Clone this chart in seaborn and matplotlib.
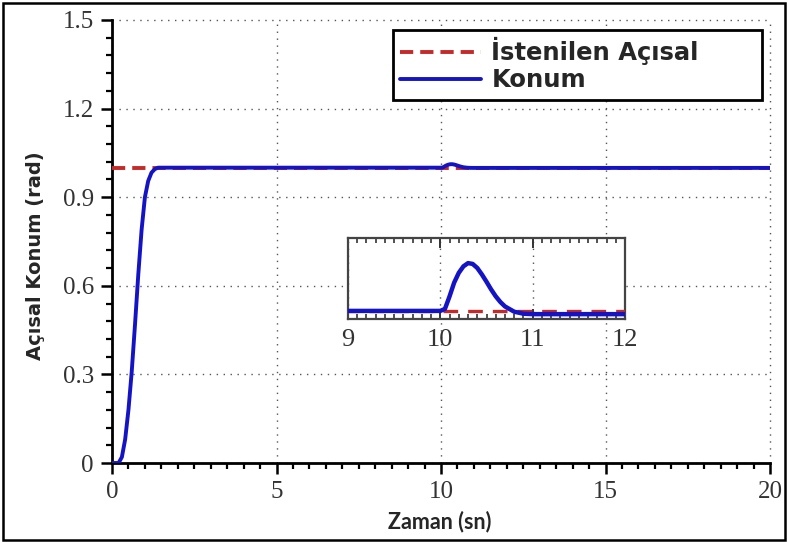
import numpy as np
import pandas as pd
import matplotlib
matplotlib.use("Agg")
import matplotlib.pyplot as plt
from matplotlib.ticker import MultipleLocator
from matplotlib.patches import Rectangle
import seaborn as sns

# ---- data ----
time_s = [0.0, 0.2, 0.3, 0.4, 0.5, 0.6, 0.7, 0.8, 0.9, 1.0, 1.1, 1.2, 1.3, 1.4, 1.5,
          2.0, 5.0, 9.0, 10.0, 10.05, 10.1, 10.15, 10.2, 10.25, 10.3, 10.35, 10.4,
          10.45, 10.5, 10.55, 10.6, 10.65, 10.7, 10.8, 10.9, 11.0, 12.0, 15.0, 20.0]
konum = [0.0, 0.0, 0.02, 0.08, 0.18, 0.31, 0.47, 0.64, 0.79, 0.90, 0.955, 0.983, 0.995, 1.0, 1.0,
         1.0, 1.0, 1.0, 1.0, 1.0005, 1.0036, 1.0070, 1.0094, 1.0110, 1.0118, 1.0116, 1.0106,
         1.0090, 1.0072, 1.0053, 1.0036, 1.0022, 1.0011, 0.9998, 0.9993, 0.9992, 0.9992, 0.9992, 0.9992]
ref_time = [0.0, 20.0]
ref_value = [1.0, 1.0]

x_ticks = [0, 5, 10, 15, 20]
y_ticks = [0, 0.3, 0.6, 0.9, 1.2, 1.5]
y_tick_labels = ["0", "0.3", "0.6", "0.9", "1.2", "1.5"]
inset_ticks = [9, 10, 11, 12]

label_ref = "İstenilen Açısal"
label_pos = "Konum"
xlabel = "Zaman (sn)"
ylabel = "Açısal Konum (rad)"

df_pos = pd.DataFrame({"t": time_s, "v": konum})
df_ref = pd.DataFrame({"t": ref_time, "v": ref_value})

RED = "#c42a2a"
BLUE = "#1414c4"

sns.set_style("white")
plt.rcParams["font.family"] = ["DejaVu Sans"]

W, H = 788, 542
fig = plt.figure(figsize=(W / 100, H / 100), dpi=100)

# main axes
AX_L, AX_R, AX_T, AX_B = 112, 770, 20, 463
ax = fig.add_axes([AX_L / W, 1 - AX_B / H, (AX_R - AX_L) / W, (AX_B - AX_T) / H])
sns.lineplot(data=df_ref, x="t", y="v", ax=ax, color=RED, lw=2.8, label=label_ref, zorder=3)
sns.lineplot(data=df_pos, x="t", y="v", ax=ax, color=BLUE, lw=2.8, label=label_pos, zorder=4)
ax.lines[0].set_dashes((3.4, 1.8))

ax.set_xlim(0, 20)
ax.set_ylim(0, 1.5)
ax.set_xticks(x_ticks)
ax.set_yticks(y_ticks)
ax.set_yticklabels(y_tick_labels)
ax.xaxis.set_minor_locator(MultipleLocator(0.5))
ax.yaxis.set_minor_locator(MultipleLocator(0.06))
ax.set_xlabel("")
ax.set_ylabel("")
for s in ["top", "right"]:
    ax.spines[s].set_visible(False)
for s in ["left", "bottom"]:
    ax.spines[s].set_linewidth(2.0)
    ax.spines[s].set_color("black")
ax.tick_params(which="major", direction="out", length=8, width=1.8, color="black",
               labelsize=18, pad=5, left=True, bottom=True)
ax.tick_params(which="minor", direction="out", length=4, width=1.6, color="black",
               left=True, bottom=True)
for lab in ax.get_xticklabels() + ax.get_yticklabels():
    lab.set_family("Liberation Serif")
    lab.set_color("#333333")
ax.grid(True, which="major", color="#555555", linestyle=(0, (1, 4)), linewidth=1.0)
for gl in ax.get_xgridlines() + ax.get_ygridlines():
    gl.set_clip_on(False)

# legend box spanning x 393..762 px, y 30..100 px
lx0 = (393 - AX_L) / (AX_R - AX_L)
lw_ = (762 - 393) / (AX_R - AX_L)
ly0 = (AX_B - 100) / (AX_B - AX_T)
lh = 70 / (AX_B - AX_T)
leg = ax.legend(loc="upper left", bbox_to_anchor=(lx0, ly0, lw_, lh), mode="expand",
                frameon=True, fancybox=False,
                edgecolor="black", framealpha=1, handlelength=3.3, handletextpad=0.45,
                labelspacing=0.12, borderpad=0.3, borderaxespad=0,
                prop={"family": "DejaVu Sans", "weight": "bold", "size": 17.5})
leg.get_frame().set_linewidth(2.0)

fig.text(36 / W, 1 - 256 / H, ylabel, rotation=90, ha="center", va="center",
         fontsize=14, fontweight="bold", family="DejaVu Sans")
fig.text(440 / W, 1 - 522 / H, xlabel, ha="center", va="center",
         fontsize=15.5, fontweight="bold", family="Lato")

# inset axes
ins = fig.add_axes([348 / W, 1 - 319 / H, (625 - 348) / W, (319 - 238) / H])
ins.set_facecolor("white")
sns.lineplot(data=df_ref, x="t", y="v", ax=ins, color=RED, lw=2.4, zorder=3, legend=False)
sns.lineplot(data=df_pos, x="t", y="v", ax=ins, color=BLUE, lw=3.2, zorder=4, legend=False)
ins.lines[0].set_dashes((4.4, 3.0))
ins.set_xlim(9, 12)
ins.set_ylim(0.998, 1.018)
ins.set_xticks(inset_ticks)
ins.xaxis.set_minor_locator(MultipleLocator(0.1))
ins.set_yticks([])
ins.set_xlabel("")
ins.set_ylabel("")
for s in ins.spines.values():
    s.set_visible(True)
    s.set_linewidth(1.6)
    s.set_color("#444444")
ins.tick_params(axis="x", which="major", direction="in", length=7, width=1.4, color="#333333",
                top=True, bottom=True, labelsize=19, pad=7)
ins.tick_params(axis="x", which="minor", direction="in", length=3.5, width=1.2, color="#333333",
                top=True, bottom=True)
for lab in ins.get_xticklabels():
    lab.set_family("Liberation Serif")
    lab.set_color("#333333")
ins.grid(True, axis="x", which="major", color="#555555", linestyle=(0, (1, 4)), linewidth=1.0)
ins.grid(False, axis="y")

fig.patches.append(Rectangle((3 / W, 2 / H), 782 / W, 537 / H, transform=fig.transFigure,
                             fill=False, edgecolor="black", linewidth=1.8))

fig.savefig("out.png", dpi=100)
